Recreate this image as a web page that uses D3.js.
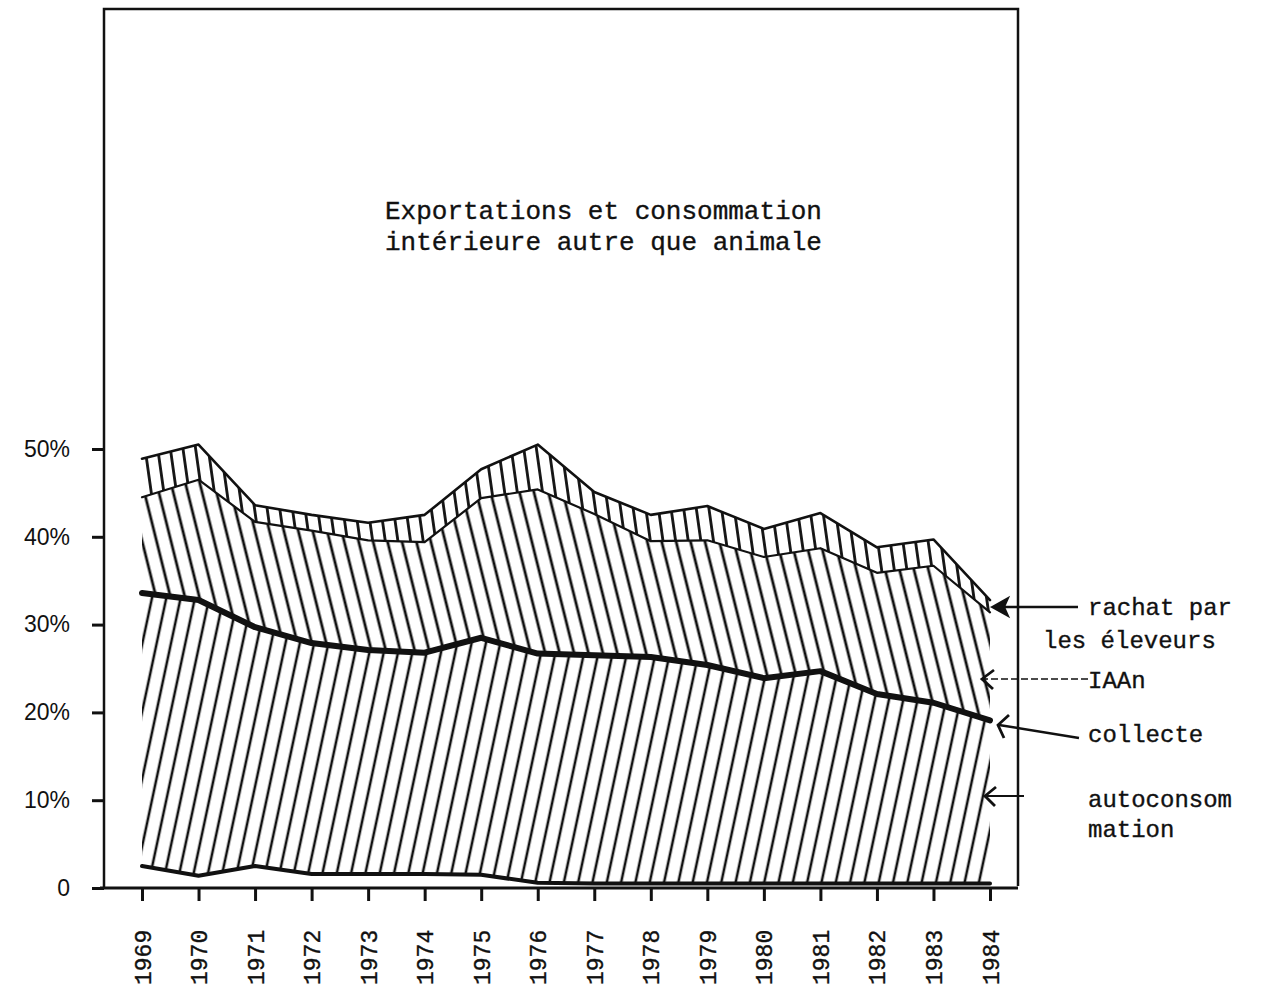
<!DOCTYPE html>
<html lang="fr">
<head>
<meta charset="utf-8">
<title>Utilisation des céréales</title>
<script src="https://cdn.jsdelivr.net/npm/d3@7"></script>
<style>
  body { margin: 0; background: #fff; }
  .mono { font-family: "Liberation Mono", "DejaVu Sans Mono", monospace; fill: #111; stroke: #111; stroke-width: 0.35px; }
</style>
</head>
<body>
<script>
// data (percent)
var years = [1969, 1970, 1971, 1972, 1973, 1974, 1975, 1976, 1977, 1978, 1979, 1980, 1981, 1982, 1983, 1984];
var totalTop = [48.9, 50.5, 43.6, 42.5, 41.6, 42.5, 47.7, 50.5, 45.1, 42.5, 43.5, 40.9, 42.7, 38.8, 39.7, 32.8];
var iaanTop = [44.5, 46.5, 41.7, 40.7, 39.6, 39.4, 44.4, 45.4, 42.6, 39.5, 39.6, 37.7, 38.7, 35.9, 36.7, 31.4];
var collecteTop = [33.6, 32.8, 29.7, 27.9, 27.1, 26.8, 28.5, 26.7, 26.5, 26.3, 25.4, 23.9, 24.7, 22.1, 21.1, 19.1];
var autoBase = [2.5, 1.4, 2.5, 1.6, 1.6, 1.6, 1.5, 0.6, 0.5, 0.5, 0.5, 0.5, 0.5, 0.5, 0.5, 0.5];
var yTicks = [0, 10, 20, 30, 40, 50];
var yTickLabels = ["0", "10%", "20%", "30%", "40%", "50%"];
var titleLines = ["Exportations et consommation", "intérieure autre que animale"];

var w = 1261, h = 992;

var x = d3.scaleLinear().domain([1969, 1984]).range([142, 990]);
var y = d3.scaleLinear().domain([0, 50]).range([888, 449]);

var svg = d3.select("body").append("svg")
  .attr("width", w)
  .attr("height", h);

var defs = svg.append("defs");

// hatching patterns
function hatch(id, spacing, angle, sw) {
  var p = defs.append("pattern")
    .attr("id", id)
    .attr("patternUnits", "userSpaceOnUse")
    .attr("width", spacing)
    .attr("height", 50)
    .attr("patternTransform", "rotate(" + angle + ")");
  p.append("line")
    .attr("x1", spacing / 2).attr("x2", spacing / 2)
    .attr("y1", 0).attr("y2", 50)
    .attr("stroke", "#111")
    .attr("stroke-width", sw);
}
hatch("hTop", 12.5, -8, 2.8);
hatch("hMid", 14, -14, 2.8);
hatch("hBot", 14, 12, 2.6);

var rows = years.map(function(d, i) {
  return { year: d, t: totalTop[i], a: iaanTop[i], c: collecteTop[i], b: autoBase[i] };
});

function band(lo, hi) {
  return d3.area()
    .x(function(d) { return x(d.year); })
    .y0(function(d) { return y(d[lo]); })
    .y1(function(d) { return y(d[hi]); });
}

svg.append("path").datum(rows).attr("d", band("a", "t")).attr("fill", "url(#hTop)");
svg.append("path").datum(rows).attr("d", band("c", "a")).attr("fill", "url(#hMid)");
svg.append("path").datum(rows).attr("d", band("b", "c")).attr("fill", "url(#hBot)");

function edge(key, sw, curve) {
  var l = d3.line()
    .x(function(d) { return x(d.year); })
    .y(function(d) { return y(d[key]); })
    .curve(curve || d3.curveLinear);
  svg.append("path").datum(rows)
    .attr("d", l)
    .attr("fill", "none")
    .attr("stroke", "#111")
    .attr("stroke-width", sw)
    .attr("stroke-linejoin", "round")
    .attr("stroke-linecap", "round");
}
edge("t", 2.6);
edge("a", 2.2);
edge("c", 6);
edge("b", 4);

// frame
svg.append("path")
  .attr("d", "M104,888 L104,9 L1018,9 L1018,886")
  .attr("fill", "none")
  .attr("stroke", "#111")
  .attr("stroke-width", 2.5);
svg.append("line")
  .attr("x1", 100).attr("x2", 1018)
  .attr("y1", 888).attr("y2", 888)
  .attr("stroke", "#111")
  .attr("stroke-width", 3);

// y axis
var yAxis = d3.axisLeft(y)
  .tickValues(yTicks)
  .tickSize(12)
  .tickPadding(22)
  .tickFormat(function(d, i) { return yTickLabels[i]; });
var gy = svg.append("g")
  .attr("transform", "translate(104,0)")
  .call(yAxis);
gy.select(".domain").remove();
gy.selectAll("line").attr("stroke", "#111").attr("stroke-width", 3);
gy.selectAll("text")
  .attr("font-family", "'Liberation Sans', Arial, sans-serif")
  .attr("font-size", "23px")
  .attr("fill", "#111");

// x axis
var xAxis = d3.axisBottom(x)
  .tickValues(years)
  .tickSize(13)
  .tickFormat(d3.format("d"));
var gx = svg.append("g")
  .attr("transform", "translate(0,888)")
  .call(xAxis);
gx.select(".domain").remove();
gx.selectAll("line").attr("stroke", "#111").attr("stroke-width", 3);
gx.selectAll("text")
  .attr("class", "mono")
  .attr("font-size", "23px")
  .attr("x", 0)
  .attr("y", 0)
  .attr("dy", "0.35em")
  .attr("text-anchor", "start")
  .attr("transform", "translate(0,97) rotate(-90)");

// title
svg.append("g").selectAll("text")
  .data(titleLines)
  .enter()
  .append("text")
  .attr("class", "mono")
  .attr("x", 385)
  .attr("y", function(d, i) { return 219 + i * 31; })
  .attr("font-size", "26px")
  .text(function(d) { return d; });

// legend labels with arrows
var ink = "#111";
function label(txt, lx, ly) {
  svg.append("text").attr("class", "mono")
    .attr("x", lx).attr("y", ly)
    .attr("font-size", "24px")
    .text(txt);
}
label("rachat par", 1088, 615);
label("les éleveurs", 1043, 648);
label("IAAn", 1088, 688);
label("collecte", 1088, 742);
label("autoconsom", 1088, 807);
label("mation", 1088, 837);

// rachat arrow (filled head)
svg.append("line").attr("x1", 1078).attr("y1", 607).attr("x2", 1002).attr("y2", 607)
  .attr("stroke", ink).attr("stroke-width", 2.5);
svg.append("path").attr("d", "M992,607 L1008,598 L1004,607 L1008,616 Z")
  .attr("fill", ink).attr("stroke", ink).attr("stroke-width", 2);

// IAAn arrow (dashed)
svg.append("line").attr("x1", 1088).attr("y1", 679).attr("x2", 984).attr("y2", 679)
  .attr("stroke", ink).attr("stroke-width", 1.6).attr("stroke-dasharray", "7,3");
svg.append("path").attr("d", "M994,670 L982,679 L993,689")
  .attr("fill", "none").attr("stroke", ink).attr("stroke-width", 2.8);

// collecte arrow
svg.append("line").attr("x1", 1079).attr("y1", 738).attr("x2", 999).attr("y2", 725)
  .attr("stroke", ink).attr("stroke-width", 2.4);
svg.append("path").attr("d", "M1009,715 L998,725 L1004,738")
  .attr("fill", "none").attr("stroke", ink).attr("stroke-width", 2.8);

// autoconsommation arrow
svg.append("line").attr("x1", 1024).attr("y1", 796).attr("x2", 987).attr("y2", 796)
  .attr("stroke", ink).attr("stroke-width", 2);
svg.append("path").attr("d", "M996,787 L985,796 L995,806")
  .attr("fill", "none").attr("stroke", ink).attr("stroke-width", 2.8);
</script>
</body>
</html>
